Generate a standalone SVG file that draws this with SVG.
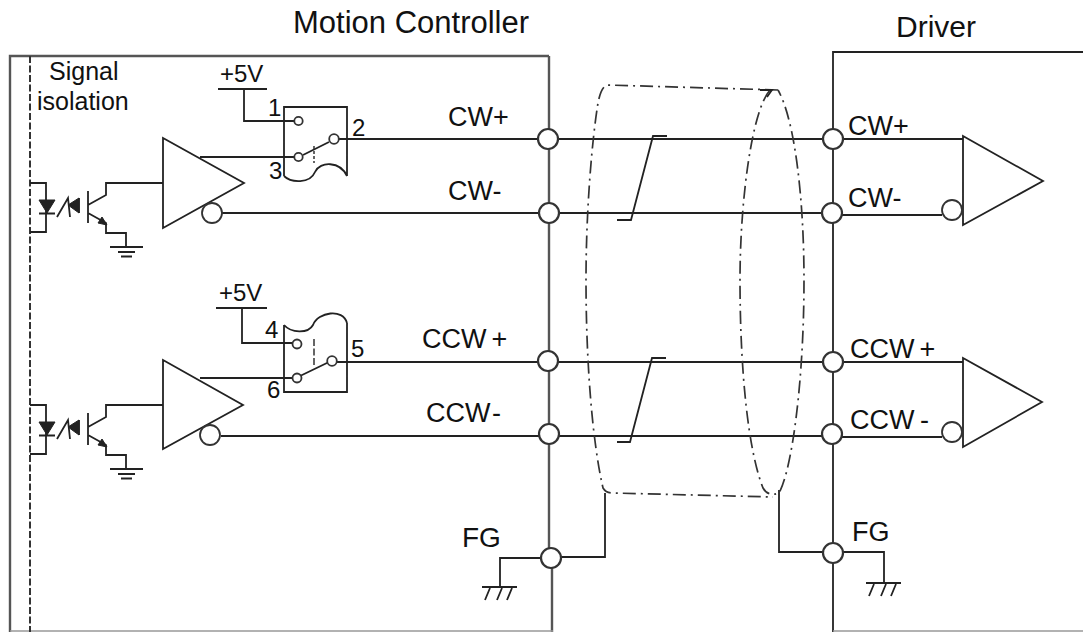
<svg xmlns="http://www.w3.org/2000/svg" width="1083" height="632" viewBox="0 0 1083 632">
<style>
text{font-family:"Liberation Sans",Arial,sans-serif;fill:#111;font-size:27px}
.w{fill:none;stroke:#222;stroke-width:1.8}
.g{fill:none;stroke:#555;stroke-width:2.400}
.j{fill:#fff;stroke:#333;stroke-width:2.200}
.c{fill:#fff;stroke:#333;stroke-width:1.800}
.s{fill:none;stroke:#333;stroke-width:1.700;stroke-dasharray:13 5 2 5}
.d{fill:none;stroke:#333;stroke-width:2;stroke-dasharray:7 2.500}
.f{fill:#222;stroke:#222;stroke-width:1}
.m{font-size:25px}
.n{font-size:24px}
</style>
<defs>
<g id="iso">
<path class="w" d="M30 183H46V232H30M46 183V200M46 213V232"/>
<path class="f" d="M39 200H55L47 213Z"/>
<path class="w" d="M39 213.500H55M57 217L68 198L70 217M79 198V213"/>
<path class="f" d="M79 198V213L68 205Z"/>
<path class="w" d="M88 191V223M88 205L106 195V183H163M88 213L106 223V233H126V247M110 247H143M118 252H135M121 256.500H132"/>
<path class="f" d="M107 225L98 223L102 217Z"/>
</g>
<g id="gnd">
<path class="w" d="M-18 0H17M-15 13L-10 1M-3 13L2 1M7 13L12 1"/>
</g>
</defs>
<g id="connectors">
<path class="w" d="M222 213H832M339 139H832M337 362H832M221 436H832"/>
<path class="w" d="M832 139H963M842 215H942M832 362H963M842 437H942"/>
<path class="w" d="M667 136H653L631 220H617M666 358H652L630 442H617"/>
<path class="w" d="M605 493V557H560M779 490V552H823M843 552H884V583M541 558H500V587"/>
<path class="s" d="M778 90L607 85Q601 87 598 103C592 140 586 210 586 280C586 360 592 440 603 488Q606 493 612 493L773 497"/>
<path class="s" d="M770 90C752 110 740 200 740 280C740 370 748 450 763 488Q768 497 779 493C792 470 804 380 804 280C804 200 795 120 778 90"/>
<path class="w" d="M760 90H772L767 97"/>
</g>
<g id="motion-controller">
<path class="g" d="M10 632V56H549"/>
<path class="g" d="M549 56V130M549 149V203M549 223V351M549 371V424M549 444V548M552 568V632"/>
<path d="M10 631H553" stroke="#999" stroke-width="1.500" fill="none"/>
<path class="d" d="M30 56V632"/>
<text x="293" y="33" style="font-size:31px">Motion Controller</text>
<text x="49" y="80" class="m">Signal</text>
<text x="37" y="110" class="m">isolation</text>
</g>
<g id="driver">
<path class="w" d="M1083 52H833V632"/>
<path d="M833 631H1083" stroke="#999" stroke-width="1.500" fill="none"/>
<text x="896" y="37" style="font-size:30px">Driver</text>
<path class="w" d="M963 136V225L1043 181Z"/>
<path class="w" d="M963 358V447L1042 402Z"/>
<circle class="c" cx="952" cy="210" r="10"/>
<circle class="c" cx="952" cy="432" r="10"/>
</g>
<g id="channel-cw">
<use href="#iso"/>
<path class="w" d="M163 138V228L244 183Z"/>
<circle class="c" cx="212" cy="213" r="10"/>
<path class="w" d="M200 157H294M218 89H267M244 89V121H294"/>
<path class="w" d="M284 176V107H347V176M284 176C291 183 310 184 315 172C320 161 340 161 347 176M303 155L329 142"/>
<path class="d" d="M314 146V163" style="stroke-dasharray:3 2;stroke-width:1.500"/>
<circle class="c" cx="298.500" cy="121" r="4.200"/><circle class="c" cx="334" cy="139" r="4.800"/><circle class="c" cx="298.500" cy="157" r="4.200"/>
<text x="220" y="82" class="n">+5V</text>
<text x="268" y="116" class="n">1</text><text x="352" y="136" class="n">2</text><text x="269" y="179" class="n">3</text>
<text x="448" y="126">CW+</text><text x="448" y="200">CW-</text>
</g>
<g id="channel-ccw">
<use href="#iso" y="222"/>
<path class="w" d="M163 360V449L243 405Z"/>
<circle class="c" cx="210" cy="435" r="10"/>
<path class="w" d="M200 378H292M216 308H267M242 308V343H293"/>
<path class="w" d="M284 325V392H347V323M284 325C291 333 308 334 313 325C318 312 343 308 347 323M300 376L329 362"/>
<path class="d" d="M314 339V367" style="stroke-width:1.500"/>
<circle class="c" cx="297" cy="344" r="4.500"/><circle class="c" cx="332" cy="361" r="4.800"/><circle class="c" cx="297" cy="378" r="4.500"/>
<text x="219" y="301" class="n">+5V</text>
<text x="265" y="338" class="n">4</text><text x="351" y="357" class="n">5</text><text x="267" y="398" class="n">6</text>
<text x="422" y="348">CCW<tspan dx="5">+</tspan></text><text x="426" y="422">CCW<tspan dx="2">-</tspan></text>
</g>
<g id="terminals">
<circle class="j" cx="548" cy="139" r="10"/><circle class="j" cx="549" cy="213" r="10"/><circle class="j" cx="548" cy="361" r="10"/><circle class="j" cx="549" cy="434" r="10"/><circle class="j" cx="551" cy="558" r="10"/>
<circle class="j" cx="833" cy="139" r="10"/><circle class="j" cx="832" cy="213" r="10"/><circle class="j" cx="833" cy="362" r="10"/><circle class="j" cx="832" cy="434" r="10"/><circle class="j" cx="833" cy="553" r="10"/>
<text x="848" y="135">CW+</text><text x="848" y="207">CW-</text><text x="850" y="358">CCW<tspan dx="5">+</tspan></text><text x="850" y="429">CCW<tspan dx="6">-</tspan></text>
<text x="462" y="547" style="font-size:28px">FG</text><text x="852" y="541">FG</text>
<use href="#gnd" x="500" y="587"/><use href="#gnd" x="884" y="583"/>
</g>
</svg>
